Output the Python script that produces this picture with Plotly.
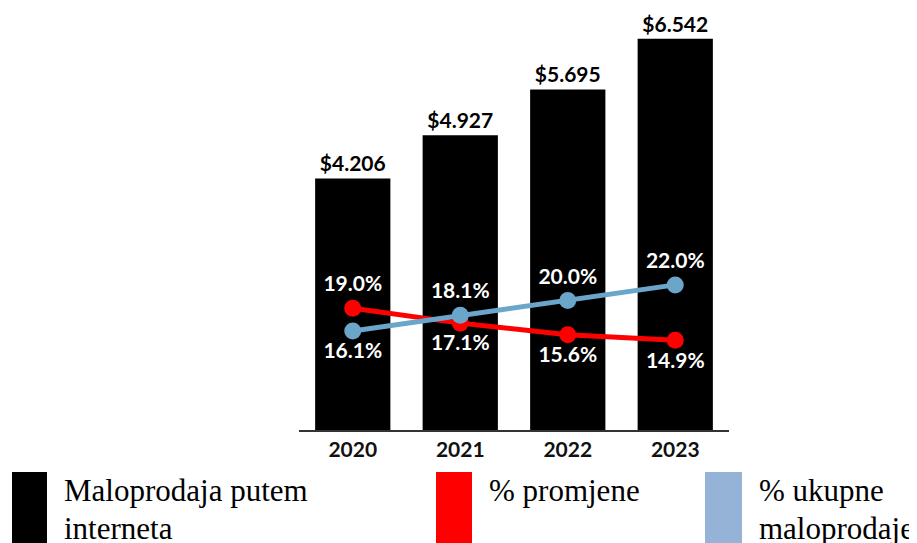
import plotly.graph_objects as go

# ---- data ----
years = ["2020", "2021", "2022", "2023"]
online_sales = [4.206, 4.927, 5.695, 6.542]          # Maloprodaja putem interneta
change_pct = [19.0, 17.1, 15.6, 14.9]                 # % promjene
share_pct = [16.1, 18.1, 20.0, 22.0]                  # % ukupne maloprodaje

legend_labels = ["Maloprodaja putem", "interneta", "% promjene", "% ukupne", "maloprodaje"]

# page body has an 8px margin; work in screen pixels and convert
OFF = 8
W, H = 917 - OFF, 543 - OFF
PLOT_L, PLOT_R, PLOT_T, PLOT_B = 299, 729, 10, 430     # screen pixels
ML, MT = PLOT_L - OFF, PLOT_T - OFF
MR, MB = W - (PLOT_R - OFF), H - (PLOT_B - OFF)
PW, PH = PLOT_R - PLOT_L, PLOT_B - PLOT_T

def px(x):
    return (x - PLOT_L) / PW

def py(y):
    return (PLOT_B - y) / PH

LABEL_FONT = dict(family="Lato", size=21, color="white")

fig = go.Figure()
fig.add_trace(go.Bar(
    x=years, y=online_sales, marker=dict(color="black", line=dict(width=0)),
    texttemplate="$%{y:.3f}", textposition="outside", constraintext="none",
    textfont=dict(family="Lato", size=21, color="black"), cliponaxis=False,
    showlegend=False,
))
fig.add_trace(go.Scatter(
    x=years, y=change_pct, yaxis="y2", mode="lines+markers+text",
    line=dict(color="#FF0000", width=5), marker=dict(color="#FF0000", size=17),
    text=[f"{v:.1f}%" for v in change_pct],
    textposition=["top center", "bottom center", "bottom center", "bottom center"],
    textfont=LABEL_FONT, showlegend=False, cliponaxis=False,
))
fig.add_trace(go.Scatter(
    x=years, y=share_pct, yaxis="y2", mode="lines+markers+text",
    line=dict(color="#6BA6CA", width=5), marker=dict(color="#6BA6CA", size=17),
    text=[f"{v:.1f}%" for v in share_pct],
    textposition=["bottom center", "top center", "top center", "top center"],
    textfont=LABEL_FONT, showlegend=False, cliponaxis=False,
))

# legend (custom, drawn below chart)
shapes = []
for x0, x1, col in [(12, 47, "black"), (436, 472, "#FF0000"), (705, 742, "#95B3D7")]:
    shapes.append(dict(type="rect", xref="paper", yref="paper",
                       x0=px(x0), x1=px(x1), y0=py(545), y1=py(472),
                       fillcolor=col, line=dict(width=0), layer="above"))

annotations = []
for (x, y), t in zip([(62, 490), (62, 528), (487, 490), (757, 490), (757, 528)], legend_labels):
    annotations.append(dict(text=t, xref="paper", yref="paper", x=px(x), y=py(y),
                            xanchor="left", yanchor="middle", showarrow=False,
                            font=dict(family="Liberation Serif", size=31, color="black")))

fig.update_layout(
    width=W, height=H, margin=dict(l=ML, r=MR, t=MT, b=MB),
    paper_bgcolor="white", plot_bgcolor="white",
    bargap=0.30,
    xaxis=dict(type="category", showline=True, linecolor="#333333", linewidth=2,
               showgrid=False, ticks="", ticklabelstandoff=0,
               tickfont=dict(family="Lato", size=21, color="#111111", weight="bold")),
    yaxis=dict(range=[0, PH / 59.8], visible=False, showgrid=False),
    yaxis2=dict(range=[19 - (PLOT_B - 308.3) / 7.8, 19 + (308.3 - PLOT_T) / 7.8],
                overlaying="y", visible=False, showgrid=False),
    shapes=shapes, annotations=annotations,
)
fig.update_traces(textfont_weight="bold")

fig.write_html("out.html")
